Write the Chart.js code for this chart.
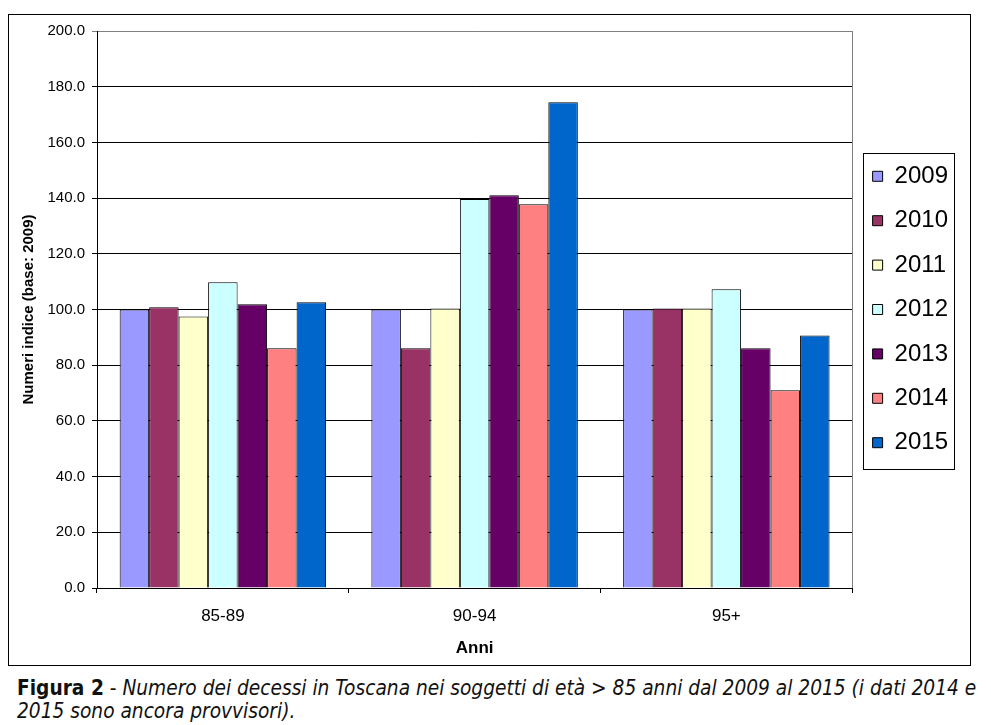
<!DOCTYPE html>
<html>
<head>
<meta charset="utf-8">
<script src="https://cdn.jsdelivr.net/npm/chart.js@4"></script>
<style>
    body { margin: 0; background: #fff; }
    #frame {
        position: absolute; left: 8px; top: 14px;
        width: 961px; height: 650px;
        border: 1px solid #000;
    }
    #caption {
        position: absolute; left: 17px; top: 677px;
        font-family: "Liberation Sans Narrow", "DejaVu Sans Condensed", "Liberation Sans", sans-serif;
        font-size: 20.7px; line-height: 23px; color: #111;
        white-space: nowrap;
    }
    #caption i { font-style: italic; }
</style>
</head>
<body>
<div id="frame"><canvas id="decessiChart" width="961" height="650"></canvas></div>
<div id="caption"><b>Figura 2</b> - <i>Numero dei decessi in Toscana nei soggetti di età &gt; 85 anni dal 2009 al 2015 (i dati 2014 e<br>2015 sono ancora provvisori).</i></div>

<script>
const classi = ['85-89', '90-94', '95+'];
const anni = ['2009', '2010', '2011', '2012', '2013', '2014', '2015'];
const colori = ['#9999FF', '#993366', '#FFFFCC', '#CCFFFF', '#660066', '#FF8080', '#0066CC'];

// numeri indice per anno, un valore per classe di età
const v2009 = [100.0, 100.0, 100.0];
const v2010 = [100.8, 86.1, 100.4];
const v2011 = [97.5, 100.4, 100.4];
const v2012 = [109.8, 139.7, 107.3];
const v2013 = [101.9, 141.0, 86.1];
const v2014 = [86.1, 137.8, 71.0];
const v2015 = [102.6, 174.4, 90.7];

const serie = [v2009, v2010, v2011, v2012, v2013, v2014, v2015];
const yTicks = { min: 0, max: 200, step: 20 };

Chart.defaults.font.family = "'Liberation Sans', Arial, sans-serif";
Chart.defaults.color = '#000';

// bordo grigio a destra dell'area del grafico
const plotBorder = {
    id: 'plotBorder',
    afterDatasetsDraw(chart) {
        const { ctx, chartArea } = chart;
        ctx.save();
        ctx.strokeStyle = '#808080';
        ctx.lineWidth = 1;
        ctx.beginPath();
        ctx.moveTo(Math.round(chartArea.right) + 0.5, chartArea.top);
        ctx.lineTo(Math.round(chartArea.right) + 0.5, chartArea.bottom);
        ctx.stroke();
        ctx.restore();
    }
};

// cornice attorno alla legenda
const legendBox = {
    id: 'legendBox',
    afterDraw(chart) {
        const hb = chart.legend.legendHitBoxes;
        if (!hb || !hb.length) return;
        const first = hb[0], last = hb[hb.length - 1];
        let right = 0;
        hb.forEach(h => { right = Math.max(right, h.left + h.width); });
        const ctx = chart.ctx;
        ctx.save();
        ctx.strokeStyle = '#000';
        ctx.lineWidth = 1;
        const x0 = Math.round(first.left - 10) + 0.5;
        const y0 = Math.round(first.top - 11) + 0.5;
        const x1 = Math.round(right + 6) + 0.5;
        const y1 = Math.round(last.top + last.height + 14) + 0.5;
        ctx.strokeRect(x0, y0, x1 - x0, y1 - y0);
        ctx.restore();
    }
};

function initChart()
{
    const ctx = document.getElementById('decessiChart').getContext('2d');

    new Chart(ctx, {
        type: 'bar',
        data: {
            labels: classi,
            datasets: anni.map((anno, i) => ({
                label: anno,
                data: serie[i],
                backgroundColor: colori[i],
                borderColor: '#000',
                borderWidth: 1,
                categoryPercentage: 0.82,
                barPercentage: 1.0
            }))
        },
        options: {
            responsive: false,
            animation: false,
            devicePixelRatio: 1,
            layout: { padding: { top: 16, left: 8, right: 12, bottom: 0 } },
            plugins: {
                tooltip: { enabled: false },
                legend: {
                    position: 'right',
                    fullSize: false,
                    labels: {
                        font: { size: 24 },
                        color: '#000',
                        boxWidth: 10,
                        boxHeight: 10,
                        padding: 20.4
                    }
                }
            },
            scales: {
                x: {
                    afterFit: (s) => { s.height = 77; },
                    border: { color: '#000', width: 1 },
                    grid: {
                        drawOnChartArea: false,
                        drawTicks: true,
                        tickLength: 5,
                        color: '#000',
                        offset: true
                    },
                    ticks: { font: { size: 17 }, padding: 13, color: '#000' },
                    title: {
                        display: true,
                        text: 'Anni',
                        font: { size: 17, weight: 'bold' },
                        padding: { top: 0, bottom: 6 },
                        color: '#000'
                    }
                },
                y: {
                    min: yTicks.min,
                    max: yTicks.max,
                    afterFit: (s) => { s.width = 80; },
                    border: { color: '#000', width: 1 },
                    grid: {
                        color: (c) => (c.tick && c.tick.value === yTicks.max) ? '#808080' : '#000',
                        tickLength: 5,
                        drawTicks: true
                    },
                    ticks: {
                        stepSize: yTicks.step,
                        font: { size: 15 },
                        padding: 7,
                        color: '#000',
                        callback: (v) => Number(v).toFixed(1)
                    },
                    title: {
                        display: true,
                        text: 'Numeri indice (base: 2009)',
                        font: { size: 15, weight: 'bold' },
                        padding: { top: 3, bottom: 0 },
                        color: '#000'
                    }
                }
            }
        },
        plugins: [plotBorder, legendBox]
    });
}

initChart();
</script>
</body>
</html>
